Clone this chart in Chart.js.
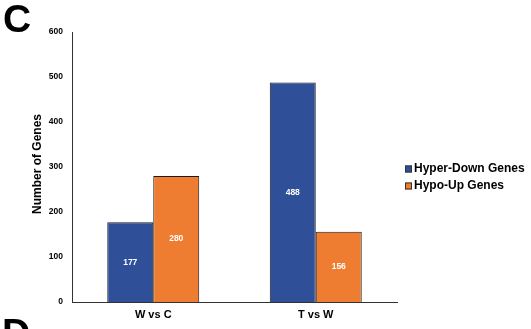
<!DOCTYPE html>
<html>
<head>
<meta charset="utf-8">
<script src="https://cdn.jsdelivr.net/npm/chart.js@4.4.1/dist/chart.umd.min.js"></script>
<style>
  html, body { margin: 0; padding: 0; background: #fff; }
  #wrap { position: relative; width: 531px; height: 329px; overflow: hidden; }
  canvas { position: absolute; left: 0; top: 0; }
</style>
</head>
<body>
<div id="wrap"><canvas id="geneChart" width="531" height="329"></canvas></div>
<script>
// data
const comparisons = ['W vs C', 'T vs W'];
const hyperDown = [177, 488];
const hypoUp = [280, 156];
const yTicks = [0, 100, 200, 300, 400, 500, 600];
const yTitle = 'Number of Genes';

const BLUE = '#2f4f98';
const ORANGE = '#ee7d31';
const FONT = '"Liberation Sans", Arial, sans-serif';

// white value labels in the middle of each bar
const barLabels = {
    id: 'barLabels',
    afterDatasetsDraw(chart) {
        const ctx = chart.ctx;
        ctx.save();
        ctx.fillStyle = '#ffffff';
        ctx.font = 'bold 8.5px ' + FONT;
        ctx.textAlign = 'center';
        ctx.textBaseline = 'middle';
        chart.data.datasets.forEach((ds, i) => {
            chart.getDatasetMeta(i).data.forEach((bar, j) => {
                const mid = (bar.y + bar.base) / 2;
                ctx.fillText(String(ds.data[j]), bar.x, mid);
            });
        });
        ctx.restore();
    }
};

// panel letters, y title and legend on the right
const extras = {
    id: 'extras',
    afterDraw(chart) {
        const ctx = chart.ctx;
        const area = chart.chartArea;
        ctx.save();
        ctx.fillStyle = '#000';
        ctx.font = 'bold 39px ' + FONT;
        ctx.textBaseline = 'alphabetic';
        ctx.textAlign = 'left';
        ctx.fillText('C', 3, 32);
        ctx.fillText('D', 2, 346);

        // rotated axis title
        ctx.save();
        ctx.translate(38, (area.top + area.bottom) / 2 - 3);
        ctx.rotate(-Math.PI / 2);
        ctx.textAlign = 'center';
        ctx.textBaseline = 'middle';
        ctx.font = 'bold 12px ' + FONT;
        ctx.fillText(yTitle, 0, 0);
        ctx.restore();

        ctx.font = 'bold 12px ' + FONT;
        ctx.textBaseline = 'middle';
        ctx.textAlign = 'left';
        chart.data.datasets.forEach((ds, i) => {
            const y = 169 + i * 17;
            ctx.fillStyle = ds.backgroundColor;
            ctx.fillRect(405, y - 3.5, 7, 7);
            ctx.strokeStyle = '#333';
            ctx.lineWidth = 1;
            ctx.strokeRect(405.5, y - 3, 6, 6);
            ctx.fillStyle = '#000';
            ctx.fillText(ds.label, 414, y);
        });
        ctx.restore();
    }
};

new Chart(document.getElementById('geneChart'), {
    type: 'bar',
    data: {
        labels: comparisons,
        datasets: [
            { label: 'Hyper-Down Genes', data: hyperDown, backgroundColor: BLUE, borderColor: '#1a1a1a', borderWidth: 1 },
            { label: 'Hypo-Up Genes', data: hypoUp, backgroundColor: ORANGE, borderColor: '#1a1a1a', borderWidth: 1 }
        ]
    },
    options: {
        responsive: false,
        animation: false,
        devicePixelRatio: 1,
        layout: { padding: { left: 0, right: 134, top: 32, bottom: 0 } },
        datasets: { bar: { categoryPercentage: 0.566, barPercentage: 1.0 } },
        plugins: { legend: { display: false }, tooltip: { enabled: false } },
        scales: {
            x: {
                grid: { display: false, drawTicks: false },
                border: { color: '#333', width: 1 },
                ticks: { color: '#000', font: { family: FONT, weight: 'bold', size: 11 }, padding: 6 },
                afterFit(scale) { scale.height = 27; }
            },
            y: {
                min: 0,
                max: 600,
                afterBuildTicks(scale) { scale.ticks = yTicks.map(v => ({ value: v })); },
                grid: { display: false, drawOnChartArea: false, drawTicks: true, tickLength: 3, tickColor: '#333' },
                border: { color: '#333', width: 1 },
                ticks: { color: '#000', font: { family: FONT, weight: 'bold', size: 8.5 }, padding: 6 },
                afterFit(scale) { scale.width = 72; }
            }
        }
    },
    plugins: [barLabels, extras]
});
</script>
</body>
</html>
